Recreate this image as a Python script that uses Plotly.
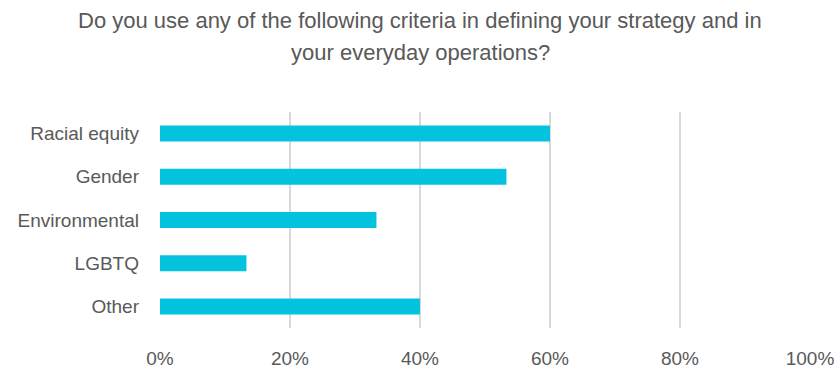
import plotly.graph_objects as go

categories = ["Racial equity", "Gender", "Environmental", "LGBTQ", "Other"]
values = [0.60, 0.533, 0.333, 0.133, 0.40]
tick_vals = [0, 0.2, 0.4, 0.6, 0.8, 1.0]
tick_text = ["0%", "20%", "40%", "60%", "80%", "100%"]
title_lines = [
    "Do you use any of the following criteria in defining your strategy and in",
    "your everyday operations?",
]

FONT = "Liberation Sans Narrow, Arial Narrow, Liberation Sans, Arial, sans-serif"
GRAY = "#595959"

fig = go.Figure(
    go.Bar(
        x=values,
        y=categories,
        orientation="h",
        marker=dict(color="#03C3DF", line=dict(width=0)),
        hoverinfo="skip",
    )
)

fig.update_layout(
    width=840,
    height=376,
    margin=dict(l=160, r=30, t=112, b=48, autoexpand=False),
    paper_bgcolor="white",
    plot_bgcolor="white",
    bargap=0.63,
    showlegend=False,
    font=dict(family=FONT, color=GRAY),
)

# title as two centred lines
for text, ypix in zip(title_lines, [20, 52]):
    fig.add_annotation(
        text=text,
        xref="paper",
        yref="paper",
        x=(420 - 160) / 650,
        y=(328 - ypix) / 216,
        xanchor="center",
        yanchor="middle",
        showarrow=False,
        font=dict(family=FONT, size=22, color=GRAY),
    )

fig.update_xaxes(
    range=[0, 1.0],
    tickvals=tick_vals,
    ticktext=tick_text,
    showgrid=True,
    gridcolor="#D9D9D9",
    gridwidth=2,
    zeroline=False,
    showline=False,
    automargin=False,
    tickfont=dict(family=FONT, size=19, color=GRAY),
    ticklabelstandoff=17,
)

fig.update_yaxes(
    categoryorder="array",
    categoryarray=categories[::-1],
    showgrid=False,
    zeroline=False,
    showline=False,
    automargin=False,
    tickfont=dict(family=FONT, size=19, color=GRAY),
    ticklabelstandoff=20,
)

fig.write_html("out.html")
